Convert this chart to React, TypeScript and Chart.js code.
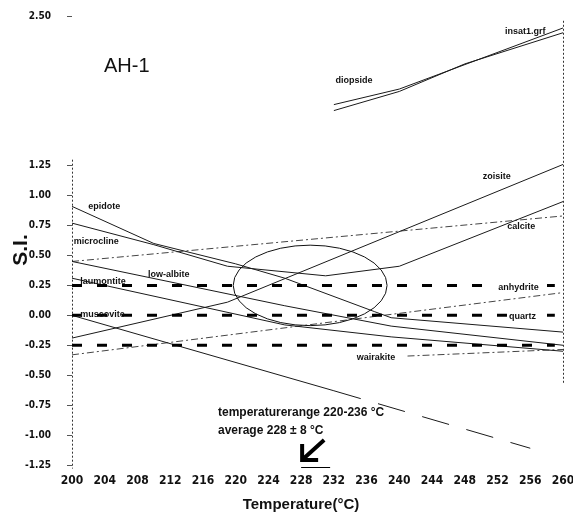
import React, { useEffect, useRef } from "react";
import { Chart, registerables } from "chart.js";

Chart.register(...registerables);

// ---- data (temperature °C, saturation index) ----
const xMin = 200;
const xMax = 260;
const xStep = 4;
const yTickValues = [2.5, 1.25, 1.0, 0.75, 0.5, 0.25, 0.0, -0.25, -0.5, -0.75, -1.0, -1.25];

const epidote = [[200, 0.91], [210, 0.6], [220, 0.43], [226, 0.31], [237, 0.03], [239, -0.02], [260, -0.14]];
const microcline = [[200, 0.77], [210, 0.59], [219, 0.41], [231, 0.33], [240, 0.41], [260, 0.95]];
const lowAlbite = [[200, 0.45], [226, 0.08], [239, -0.09], [260, -0.25]];
const laumontite = [[200, 0.31], [226, -0.08], [239, -0.18], [260, -0.3]];
const muscovite = [[200, 0.0], [232, -0.63], [256, -1.11]];
const zoisite = [[200, -0.19], [219, 0.11], [260, 1.26]];
const calcite = [[200, 0.45], [260, 0.83]];
const anhydrite = [[200, -0.33], [260, 0.19]];
const wairakite = [[241, -0.34], [260, -0.285]];
const diopside = [[232, 1.76], [240, 1.89], [260, 2.4]];
const insat1 = [[232, 1.71], [240, 1.87], [248, 2.1], [260, 2.36]];
const bandUpper = [[200, 0.25], [259, 0.25]];
const bandZero = [[200, 0.0], [259, 0.0]];
const bandLower = [[200, -0.25], [259, -0.25]];

const ellipseCenter = [229.1, 0.25];
const ellipseRadius = [9.4, 0.336];

const labels: [string, number, number][] = [
  ["epidote", 202, 0.91],
  ["microcline", 200.2, 0.62],
  ["low-albite", 209.3, 0.345],
  ["laumontite", 201, 0.28],
  ["muscovite", 201, 0.01],
  ["zoisite", 250.2, 1.16],
  ["calcite", 253.2, 0.74],
  ["wairakite", 234.8, -0.35],
  ["diopside", 232.2, 1.96],
  ["insat1.grf", 252.9, 2.37],
];
const boxedLabels: [string, number, number][] = [
  ["anhydrite", 252.1, 0.235],
  ["quartz", 253.4, -0.01],
];

const FONT = "'Liberation Sans', Arial, sans-serif";
const NARROW = "'DejaVu Sans Condensed', 'Liberation Sans Narrow', 'Liberation Sans', Arial, sans-serif";

const toPts = (a: number[][]) => a.map(([x, y]) => ({ x, y }));

const solid = (label: string, arr: number[][], extra: any = {}) => ({
  label,
  data: toPts(arr),
  borderColor: "#1a1a1a",
  borderWidth: 1,
  pointRadius: 0,
  tension: 0,
  fill: false,
  ...extra,
});

const zeroPad = (s: any) => {
  s.paddingLeft = 0;
  s.paddingRight = 0;
  s.paddingTop = 0;
  s.paddingBottom = 0;
};

const overlay = {
  id: "overlay",
  beforeDatasetsDraw(chart: any) {
    const { ctx, scales } = chart;
    const xs = scales.x;
    const ys = scales.y;
    const px = (v: number) => xs.getPixelForValue(v);
    const py = (v: number) => ys.getPixelForValue(v);
    ctx.save();
    ctx.strokeStyle = "#333";
    ctx.lineWidth = 1;
    ctx.setLineDash([2, 2]);
    ctx.beginPath();
    ctx.moveTo(Math.round(px(200)) + 0.5, py(1.3));
    ctx.lineTo(Math.round(px(200)) + 0.5, py(-1.28));
    ctx.moveTo(Math.round(px(260)) + 0.5, py(2.46));
    ctx.lineTo(Math.round(px(260)) + 0.5, py(-0.58));
    ctx.stroke();
    ctx.restore();
  },
  afterDatasetsDraw(chart: any) {
    const { ctx, scales } = chart;
    const xs = scales.x;
    const ys = scales.y;
    const px = (v: number) => xs.getPixelForValue(v);
    const py = (v: number) => ys.getPixelForValue(v);
    ctx.save();
    // ellipse
    const cx = px(ellipseCenter[0]);
    const cy = py(ellipseCenter[1]);
    const rx = px(ellipseCenter[0] + ellipseRadius[0]) - cx;
    const ry = py(ellipseCenter[1] - ellipseRadius[1]) - cy;
    ctx.strokeStyle = "#111";
    ctx.lineWidth = 1;
    ctx.beginPath();
    ctx.ellipse(cx, cy, rx, ry, 0, 0, Math.PI * 2);
    ctx.stroke();

    // mineral labels
    ctx.fillStyle = "#111";
    ctx.font = `bold 9px ${FONT}`;
    ctx.textBaseline = "middle";
    ctx.textAlign = "left";
    for (const [t, x, y] of labels) ctx.fillText(t, px(x), py(y));
    for (const [t, x, y] of boxedLabels) {
      const w = ctx.measureText(t).width;
      ctx.fillStyle = "#fff";
      ctx.fillRect(px(x) - 2, py(y) - 6, w + 4, 12);
      ctx.fillStyle = "#111";
      ctx.fillText(t, px(x), py(y));
    }

    // title
    ctx.font = `20px ${FONT}`;
    ctx.fillText("AH-1", 104, 66);

    // temperature annotation
    ctx.font = `bold 12px ${FONT}`;
    ctx.fillText("temperaturerange 220-236 °C", 218, 413);
    ctx.fillText("average 228 ± 8 °C", 218, 431);

    // arrow
    const ax = px(228) + 1;
    const ay = 460;
    ctx.strokeStyle = "#000";
    ctx.lineWidth = 4;
    ctx.lineCap = "butt";
    ctx.beginPath();
    ctx.moveTo(ax, ay - 16);
    ctx.lineTo(ax, ay);
    ctx.lineTo(ax + 16, ay);
    ctx.moveTo(ax + 1, ay - 1);
    ctx.lineTo(ax + 22, ay - 20);
    ctx.stroke();
    ctx.lineWidth = 1;
    ctx.beginPath();
    ctx.moveTo(ax - 1, 467.5);
    ctx.lineTo(ax + 28, 467.5);
    ctx.stroke();

    // axis titles
    ctx.font = `bold 15px ${FONT}`;
    ctx.textAlign = "center";
    ctx.fillText("Temperature(°C)", 301, 505);
    ctx.save();
    ctx.translate(21, 250);
    ctx.rotate(-Math.PI / 2);
    ctx.font = `bold 21px ${FONT}`;
    ctx.fillText("S.I.", 0, 0);
    ctx.restore();
    ctx.restore();
  },
};

export default function App() {
  const ref = useRef<HTMLCanvasElement>(null);
  useEffect(() => {
    const dashDot = [7, 3, 2, 3];
    const band = { borderColor: "#000", borderWidth: 3, borderDash: [10, 15] };
    const chart = new Chart(ref.current as HTMLCanvasElement, {
      type: "line",
      data: {
        datasets: [
          solid("band +0.25", bandUpper, band),
          solid("band 0", bandZero, band),
          solid("band -0.25", bandLower, band),
          solid("epidote", epidote),
          solid("microcline", microcline),
          solid("low-albite", lowAlbite),
          solid("laumontite", laumontite),
          solid("muscovite", muscovite, {
            segment: { borderDash: (c: any) => (c.p0.parsed.x >= 232 ? [28, 18] : undefined) },
          }),
          solid("zoisite", zoisite),
          solid("calcite", calcite, { borderColor: "#444", borderDash: dashDot }),
          solid("anhydrite", anhydrite, { borderColor: "#444", borderDash: dashDot }),
          solid("wairakite", wairakite, { borderColor: "#444", borderDash: dashDot }),
          solid("diopside", diopside),
          solid("insat1.grf", insat1),
        ] as any,
      },
      options: {
        animation: false,
        responsive: false,
        parsing: true,
        layout: { padding: { top: 16, right: 10, bottom: 0, left: 0 } },
        plugins: { legend: { display: false }, title: { display: false }, tooltip: { enabled: false } },
        scales: {
          x: {
            type: "linear",
            min: xMin,
            max: xMax,
            ticks: {
              stepSize: xStep,
              autoSkip: false,
              maxRotation: 0,
              padding: 9,
              color: "#111",
              font: { family: NARROW, size: 12, weight: "bold" },
              callback: (v: any) => String(v),
            },
            grid: { display: false, drawTicks: false },
            border: { display: false },
            afterFit: (s: any) => {
              s.height = 51;
              zeroPad(s);
            },
          },
          y: {
            type: "linear",
            min: -1.25,
            max: 2.5,
            afterBuildTicks: (s: any) => {
              s.ticks = yTickValues.map((v) => ({ value: v }));
            },
            ticks: {
              padding: 16,
              color: "#111",
              font: { family: NARROW, size: 10, weight: "bold" },
              callback: (v: any) => Number(v).toFixed(2),
            },
            grid: { display: true, drawOnChartArea: false, drawTicks: true, tickLength: 5, color: "#555" },
            border: { display: false },
            afterFit: (s: any) => {
              s.width = 72;
              zeroPad(s);
            },
          },
        },
      } as any,
      plugins: [overlay],
    });
    return () => chart.destroy();
  }, []);
  return (
    <div style={{ position: "fixed", left: 0, top: 0, width: 573, height: 516, background: "#fff" }}>
      <canvas ref={ref} width={573} height={516} style={{ display: "block", width: 573, height: 516 }} />
    </div>
  );
}
